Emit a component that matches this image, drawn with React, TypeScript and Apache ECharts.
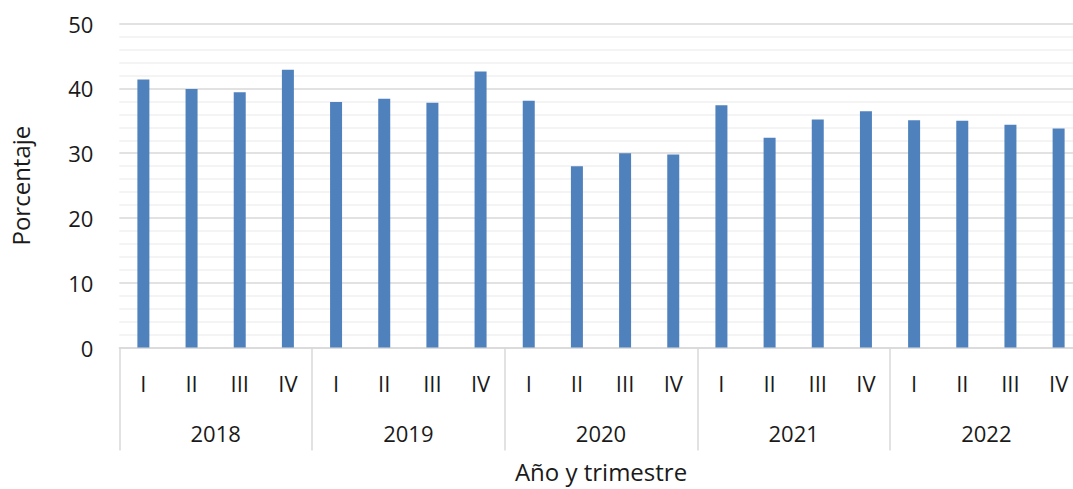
import React, { useEffect, useRef } from "react";
import * as echarts from "echarts";

const years = ["2018", "2019", "2020", "2021", "2022"];
const quarters = ["I", "II", "III", "IV"];
const quarterLabels = years.flatMap(() => quarters);
const values = [
  41.4, 39.9, 39.4, 42.9,
  37.9, 38.4, 37.8, 42.6,
  38.1, 28.0, 30.0, 29.8,
  37.4, 32.4, 35.2, 36.5,
  35.1, 35.0, 34.4, 33.8,
];
const yTicks = { min: 0, max: 50, interval: 10 };

const FONT = "'Open Sans', 'Noto Sans', sans-serif";
const TEXT = "#1a1a1a";
const GRID = "#d9d9d9";

export default function App() {
  const ref = useRef<HTMLDivElement>(null);
  useEffect(() => {
    if (!ref.current) return;
    const chart = echarts.init(ref.current, undefined, { renderer: "svg" });
    chart.setOption({
      animation: false,
      textStyle: { fontFamily: FONT },
      grid: {
        left: 119.3,
        top: 23.7,
        width: 963.4,
        height: 323.8,
        containLabel: false,
        outerBoundsMode: "none",
      },
      xAxis: [
        {
          type: "category",
          data: quarterLabels,
          position: "bottom",
          axisLine: { show: true, lineStyle: { color: GRID, width: 1.5 } },
          axisTick: { show: false },
          axisLabel: { interval: 0, fontSize: 22, color: TEXT, fontFamily: FONT, margin: 24 },
          splitLine: { show: false },
        },
        {
          type: "category",
          data: years,
          position: "bottom",
          offset: 0,
          axisLine: { show: false },
          axisTick: { show: true, interval: 0, length: 103, lineStyle: { color: GRID, width: 1.5 } },
          axisLabel: { interval: 0, fontSize: 22, color: TEXT, fontFamily: FONT, margin: 74 },
          name: "Año y trimestre",
          nameLocation: "middle",
          nameGap: 112,
          nameTextStyle: { fontSize: 24, color: TEXT, fontFamily: FONT },
          splitLine: { show: false },
        },
      ],
      yAxis: {
        type: "value",
        min: yTicks.min,
        max: yTicks.max,
        interval: yTicks.interval,
        axisLine: { show: false },
        axisTick: { show: false },
        axisLabel: { fontSize: 22, color: TEXT, fontFamily: FONT, margin: 26 },
        splitLine: { show: true, lineStyle: { color: GRID, width: 1.5 } },
        minorTick: { show: false, splitNumber: 5 },
        minorSplitLine: { show: true, lineStyle: { color: "#f0f0f0", width: 1.5 } },
        name: "Porcentaje",
        nameLocation: "middle",
        nameRotate: 90,
        nameGap: 87,
        nameTextStyle: { fontSize: 24, color: TEXT, fontFamily: FONT },
      },
      series: [
        {
          type: "bar",
          data: values,
          xAxisIndex: 0,
          barWidth: 12,
          itemStyle: { color: "#4f81bd" },
        },
      ],
    });
    return () => chart.dispose();
  }, []);
  return (
    <div
      ref={ref}
      style={{ position: "fixed", left: 0, top: 0, width: 1073, height: 489, background: "#fff" }}
    />
  );
}
